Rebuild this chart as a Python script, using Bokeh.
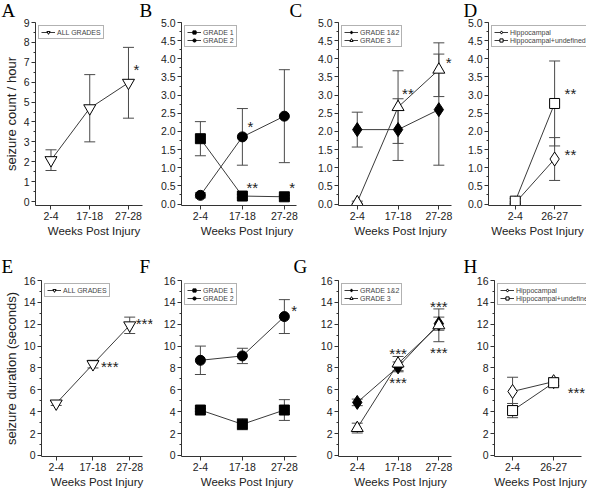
from bokeh.plotting import figure
from bokeh.models import (Range1d, FixedTicker, NumeralTickFormatter, Whisker, TeeHead,
                          ColumnDataSource, Legend, LegendItem, Label)
from bokeh.core.properties import value
from bokeh.layouts import column, row
from bokeh.embed import file_html
from bokeh.resources import INLINE

# ---------------- data ----------------
weeks_3 = ["2-4", "17-18", "27-28"]
weeks_2 = ["2-4", "26-27"]

# seizure count / hour (mean, sem)
count_all = [2.08, 4.69, 5.97]
count_all_err = [0.52, 1.69, 1.78]
count_g1 = [1.80, 0.22, 0.20]
count_g1_err = [0.47, 0.05, 0.04]
count_g2 = [0.24, 1.85, 2.42]
count_g2_err = [0.07, 0.78, 1.28]
count_g12 = [2.05, 2.05, 2.60]
count_g12_err = [0.48, 0.85, 1.53]
count_g3 = [0.05, 2.67, 3.70]
count_g3_err = [0.03, 1.00, 0.74]
count_hip = [0.03, 1.24]
count_hip_err = [0.03, 0.59]
count_hipu = [0.08, 2.77]
count_hipu_err = [0.07, 1.17]

# seizure duration (seconds)
dur_all = [4.75, 8.35, 11.90]
dur_all_err = [0.18, 0.35, 0.75]
dur_g1 = [4.15, 2.85, 4.15]
dur_g1_err = [0.12, 0.50, 0.95]
dur_g2 = [8.70, 9.10, 12.70]
dur_g2_err = [1.30, 0.70, 1.55]
dur_g12 = [4.85, 8.10, 12.05]
dur_g12_err = [0.30, 0.45, 0.60]
dur_g3 = [2.50, 8.40, 11.90]
dur_g3_err = [0.45, 0.65, 1.50]
dur_hip = [5.85, 6.75]
dur_hip_err = [1.30, 0.35]
dur_hipu = [4.10, 6.65]
dur_hipu_err = [0.65, 0.30]

count_ticks = [0, 1, 2, 3, 4, 5, 6, 7, 8, 9]
count_ticks_half = [0.0, 0.5, 1.0, 1.5, 2.0, 2.5, 3.0, 3.5, 4.0, 4.5, 5.0]
dur_ticks = [0, 2, 4, 6, 8, 10, 12, 14, 16]

panel_letters_top = ["A", "B", "C", "D"]
panel_letters_bottom = ["E", "F", "G", "H"]

# ---------------- styles ----------------
FONT = "Liberation Sans"
SERIF = "Liberation Serif"
LINE_C = "#3a3a3a"
ERR_C = "#4a4a4a"
TOTAL_W = 588

MK = {
    "all": dict(marker="inverted_triangle", size=12, fill_color="white"),
    "g1": dict(marker="square", size=10, fill_color="black"),
    "g2": dict(marker="circle", size=10, fill_color="black"),
    "g12": dict(marker="diamond", size=14, fill_color="black"),
    "g3": dict(marker="triangle", size=12, fill_color="white"),
    "hip": dict(marker="diamond", size=14, fill_color="white"),
    "hipu": dict(marker="square", size=10, fill_color="white"),
}


def make_strip(letters, xpos, H, base):
    s = figure(width=TOTAL_W, height=H, x_range=Range1d(0, TOTAL_W), y_range=Range1d(0, H),
               output_backend="svg", toolbar_location=None, x_axis_type=None,
               y_axis_type=None, min_border=0)
    s.outline_line_color = None
    s.grid.visible = False
    for t, x in zip(letters, xpos):
        s.add_layout(Label(x=x, y=base, text=t, text_font=SERIF, text_font_size="19px",
                           text_baseline="alphabetic", text_align="left", text_color="black"))
    return s


def make_panel(cats, series, stars, ylabel, yr, yticks, yminor, yfmt, xr, xbounds,
               W, H, L, R, T, B):
    p = figure(width=W, height=H, x_range=Range1d(*xr), y_range=Range1d(*yr),
               output_backend="svg", toolbar_location=None,
               min_border_left=L, min_border_right=R, min_border_top=T, min_border_bottom=B)
    p.outline_line_color = None
    p.xgrid.visible = False
    p.ygrid.visible = False
    xs = list(range(len(cats)))
    lines = []
    for name, key, ys, es in series:
        up = [v + e for v, e in zip(ys, es)]
        lo = [v - e for v, e in zip(ys, es)]
        src = ColumnDataSource(dict(x=xs, upper=up, lower=lo))
        w = Whisker(source=src, base="x", upper="upper", lower="lower",
                    line_color=ERR_C, line_width=1,
                    upper_head=TeeHead(size=11, line_color=ERR_C, line_width=1),
                    lower_head=TeeHead(size=11, line_color=ERR_C, line_width=1))
        p.add_layout(w)
        lines.append(p.line(xs, ys, line_color=LINE_C, line_width=1))
    leg_items = []
    for (name, key, ys, es), lr in zip(series, lines):
        m = MK[key]
        sr = p.scatter(xs, ys, marker=m["marker"], size=m["size"], fill_color=m["fill_color"],
                       line_color="black", line_width=1)
        leg_items.append(LegendItem(label=name, renderers=[lr, sr]))
    legend = Legend(items=leg_items, location="top_left", margin=3, padding=2, spacing=0,
                    label_text_font=FONT, label_text_font_size="7px", label_height=7,
                    glyph_height=8, glyph_width=14, label_standoff=2,
                    border_line_color="#666", border_line_width=1,
                    background_fill_color="white", background_fill_alpha=1)
    p.add_layout(legend)

    # significance stars (dy: pixels upward)
    sx, sy, st, sdx, sdy, sal = [], [], [], [], [], []
    for si, ci, txt, anchor, dx, dy, al in stars:
        ys = series[si][2]
        es = series[si][3]
        v = ys[ci] + (es[ci] if anchor == "upper" else (-es[ci] if anchor == "lower" else 0))
        sx.append(ci); sy.append(v); st.append(txt); sdx.append(dx); sdy.append(-dy); sal.append(al)
    ssrc = ColumnDataSource(dict(x=sx, y=sy, text=st, dx=sdx, dy=sdy, al=sal))
    p.text(x="x", y="y", text="text", x_offset="dx", y_offset="dy", text_align="al",
           text_baseline="middle", source=ssrc, text_font=value(FONT),
           text_font_size="15px", text_color="#222")

    # axes
    for ax in (p.xaxis[0], p.yaxis[0]):
        ax.axis_line_color = "#333"
        ax.major_tick_line_color = "#333"
        ax.minor_tick_line_color = "#333"
        ax.major_tick_in = 0
        ax.major_tick_out = 4
        ax.minor_tick_in = 0
        ax.minor_tick_out = 2
        ax.major_label_text_font = FONT
        ax.major_label_text_font_size = "10.5px"
        ax.major_label_text_color = "#222"
        ax.major_label_standoff = 2
        ax.axis_label_text_font = FONT
        ax.axis_label_text_font_style = "normal"
        ax.axis_label_text_color = "#222"
        ax.axis_label_standoff = 2
    p.xaxis.ticker = FixedTicker(ticks=xs)
    p.xaxis.major_label_overrides = {i: c for i, c in enumerate(cats)}
    p.xaxis.minor_tick_line_color = None
    p.xaxis.bounds = xbounds
    p.xaxis.axis_label = "Weeks Post Injury"
    p.xaxis.axis_label_text_font_size = "11.5px"
    p.yaxis.ticker = FixedTicker(ticks=yticks, minor_ticks=yminor)
    p.yaxis.formatter = NumeralTickFormatter(format=yfmt)
    if ylabel:
        p.yaxis.axis_label = ylabel
        p.yaxis.axis_label_text_font_size = "13px"
    return p


minor_count = [i + 0.5 for i in range(9)]
minor_half = [i * 0.25 for i in range(21)]
minor_dur = [i for i in range(17)]

TOP = dict(H=230, T=4, B=43)
BOT = dict(H=215, T=5, B=32)

pA = make_panel(weeks_3, [("ALL GRADES", "all", count_all, count_all_err)],
                [(0, 2, "*", "mean", 5, 13, "left")],
                "seizure count / hour", (-0.2, 9), count_ticks, minor_count, "0",
                (-0.40, 2.62), (-0.40, 2.35), W=156, L=28, R=4, **TOP)
pB = make_panel(weeks_3, [("GRADE 1", "g1", count_g1, count_g1_err),
                          ("GRADE 2", "g2", count_g2, count_g2_err)],
                [(1, 1, "*", "mean", 5, 10, "left"), (0, 1, "**", "mean", 4, 9, "left"),
                 (0, 2, "*", "mean", 5, 9, "left")],
                None, (-0.04, 5), count_ticks_half, minor_half, "0.0",
                (-0.45, 2.67), (-0.45, 2.29), W=158, L=25, R=2, **TOP)
pC = make_panel(weeks_3, [("GRADE 1&2", "g12", count_g12, count_g12_err),
                          ("GRADE 3", "g3", count_g3, count_g3_err)],
                [(1, 1, "**", "mean", 4, 14, "left"), (1, 2, "*", "mean", 7, 7, "left")],
                None, (-0.04, 5), count_ticks_half, minor_half, "0.0",
                (-0.46, 2.58), (-0.46, 2.31), W=150, L=24, R=2, **TOP)
pD = make_panel(weeks_2, [("Hippocampal", "hip", count_hip, count_hip_err),
                          ("Hippocampal+undefined", "hipu", count_hipu, count_hipu_err)],
                [(1, 1, "**", "mean", 10, 10, "left"), (0, 1, "**", "mean", 10, 5, "left")],
                None, (-0.04, 5), count_ticks_half, minor_half, "0.0",
                (-0.68, 1.81), (-0.68, 1.69), W=124, L=20, R=2, **TOP)

pE = make_panel(weeks_3, [("ALL GRADES", "all", dur_all, dur_all_err)],
                [(0, 1, "***", "mean", 8, -2, "left"), (0, 2, "***", "mean", 6, 2, "left")],
                "seizure duration (seconds)", (-0.1, 16), dur_ticks, minor_dur, "0",
                (-0.40, 2.62), (-0.40, 2.35), W=156, L=28, R=4, **BOT)
pF = make_panel(weeks_3, [("GRADE 1", "g1", dur_g1, dur_g1_err),
                          ("GRADE 2", "g2", dur_g2, dur_g2_err)],
                [(1, 2, "*", "mean", 7, 6, "left")],
                None, (-0.1, 16), dur_ticks, minor_dur, "0",
                (-0.45, 2.67), (-0.45, 2.29), W=158, L=25, R=2, **BOT)
pG = make_panel(weeks_3, [("GRADE 1&2", "g12", dur_g12, dur_g12_err),
                          ("GRADE 3", "g3", dur_g3, dur_g3_err)],
                [(1, 1, "***", "upper", 0, 3, "center"), (0, 1, "***", "lower", 0, -11, "center"),
                 (1, 2, "***", "upper", 0, 2, "center"), (1, 2, "***", "lower", 0, -11, "center")],
                None, (-0.1, 16), dur_ticks, minor_dur, "0",
                (-0.46, 2.58), (-0.46, 2.31), W=150, L=24, R=2, **BOT)
pH = make_panel(weeks_2, [("Hippocampal", "hip", dur_hip, dur_hip_err),
                          ("Hippocampal+undefined", "hipu", dur_hipu, dur_hipu_err)],
                [(1, 1, "***", "mean", 14, -10, "left")],
                None, (-0.1, 16), dur_ticks, minor_dur, "0",
                (-0.44, 1.80), (-0.44, 1.68), W=124, L=30, R=2, **BOT)

strip_top = make_strip(panel_letters_top, [1, 139, 289, 463], 18, 8)
strip_bot = make_strip(panel_letters_bottom, [1, 139, 293, 463], 27, 9)

layout = column(strip_top,
                row(pA, pB, pC, pD, spacing=0),
                strip_bot,
                row(pE, pF, pG, pH, spacing=0), spacing=0)
open("out.html", "w").write(file_html(layout, INLINE))
